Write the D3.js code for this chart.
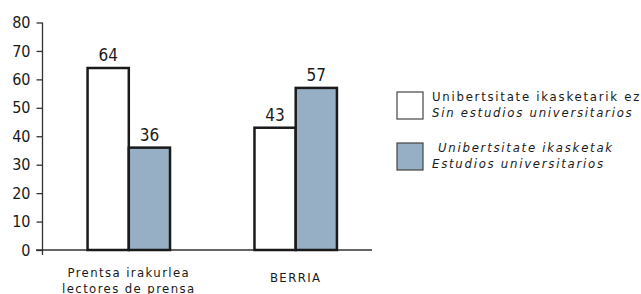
<!DOCTYPE html>
<html>
<head>
<meta charset="utf-8">
<script src="https://cdn.jsdelivr.net/npm/d3@7"></script>
<style>
  body { margin: 0; background: #fff; }
  text { font-family: 'DejaVu Sans Condensed', 'DejaVu Sans', sans-serif; fill: #1a1a1a; }
</style>
</head>
<body>
<div id="chart"></div>
<script>
var categories = ['Prentsa irakurlea|lectores de prensa', 'BERRIA']
var seriesKeys = ['sin', 'con']
var sinValues = [64, 43]
var conValues = [36, 57]
var yTicks = [0, 10, 20, 30, 40, 50, 60, 70, 80]
var legendLabels = [
  ['Unibertsitate ikasketarik ez', 'Sin estudios universitarios'],
  ['Unibertsitate ikasketak', 'Estudios universitarios']
]
var colors = ['#ffffff', '#97afc4']

var width = 641
var height = 294

var svg = d3
  .select('#chart')
  .append('svg')
  .attr('width', width)
  .attr('height', height)

var y = d3.scaleLinear().domain([0, 80]).range([250, 22.5])

var x0 = d3.scaleBand()
  .domain(categories)
  .range([42.5, 382])
  .paddingInner(0.506)
  .paddingOuter(0.27)

var x1 = d3.scaleBand()
  .domain(seriesKeys)
  .range([0, x0.bandwidth()])

var data = categories.map(function(c, i) {
  return { cat: c, values: [sinValues[i], conValues[i]] }
})

// y axis
var yAxis = d3.axisLeft(y).tickValues(yTicks).tickSize(6).tickPadding(6)
var gy = svg.append('g').attr('transform', 'translate(42.5,0)').call(yAxis)
gy.select('.domain').attr('d', 'M0,22.5V255').attr('stroke', '#333').attr('stroke-width', 1.3)
gy.selectAll('.tick line').attr('stroke', '#333').attr('stroke-width', 1.3)
gy.selectAll('.tick text')
  .attr('font-size', 16)
  .attr('fill', '#1a1a1a')
  .style('font-family', "'DejaVu Sans Condensed', sans-serif")

// baseline
svg.append('line')
  .attr('x1', 36).attr('x2', 372)
  .attr('y1', y(0)).attr('y2', y(0))
  .attr('stroke', '#333').attr('stroke-width', 1.3)

var groups = svg.selectAll('.grp')
  .data(data)
  .enter()
  .append('g')
  .attr('class', 'grp')
  .attr('transform', function(d) { return 'translate(' + x0(d.cat) + ',0)' })

groups.selectAll('rect')
  .data(function(d) { return d.values })
  .enter()
  .append('rect')
  .attr('x', function(d, i) { return x1(seriesKeys[i]) })
  .attr('width', x1.bandwidth())
  .attr('y', function(d) { return y(d) })
  .attr('height', function(d) { return y(0) - y(d) })
  .attr('fill', function(d, i) { return colors[i] })
  .attr('stroke', '#1a1a1a')
  .attr('stroke-width', 2.5)

groups.selectAll('.val')
  .data(function(d) { return d.values })
  .enter()
  .append('text')
  .attr('class', 'val')
  .attr('x', function(d, i) { return x1(seriesKeys[i]) + x1.bandwidth() / 2 })
  .attr('y', function(d) { return y(d) - 7 })
  .attr('text-anchor', 'middle')
  .attr('font-size', 17)
  .text(function(d) { return d })

// category labels
groups.append('text')
  .attr('text-anchor', 'middle')
  .attr('x', x0.bandwidth() / 2)
  .attr('y', function(d, i) { return i === 0 ? 277 : 282 })
  .attr('font-size', 13)
  .attr('letter-spacing', 1.4)
  .each(function(d) {
    var lines = d.cat.split('|')
    var t = d3.select(this)
    lines.forEach(function(l, j) {
      t.append('tspan')
        .attr('x', x0.bandwidth() / 2)
        .attr('dy', j === 0 ? 0 : 16)
        .text(l)
    })
  })

// legend
var legend = svg.selectAll('.leg')
  .data(legendLabels)
  .enter()
  .append('g')
  .attr('class', 'leg')
  .attr('transform', function(d, i) { return 'translate(397,' + (92 + i * 51) + ')' })

legend.append('rect')
  .attr('width', 26).attr('height', 27)
  .attr('fill', function(d, i) { return colors[i] })
  .attr('stroke', '#444').attr('stroke-width', 1.2)

legend.each(function(d, i) {
  var g = d3.select(this)
  d.forEach(function(l, j) {
    var italic = (i === 1) || j === 1
    g.append('text')
      .attr('x', i === 1 && j === 0 ? 41 : 35)
      .attr('y', 9 + j * 16)
      .attr('font-size', 13)
      .attr('letter-spacing', 1.75)
      .attr('font-style', italic ? 'italic' : 'normal')
      .text(l)
  })
})
</script>
</body>
</html>
